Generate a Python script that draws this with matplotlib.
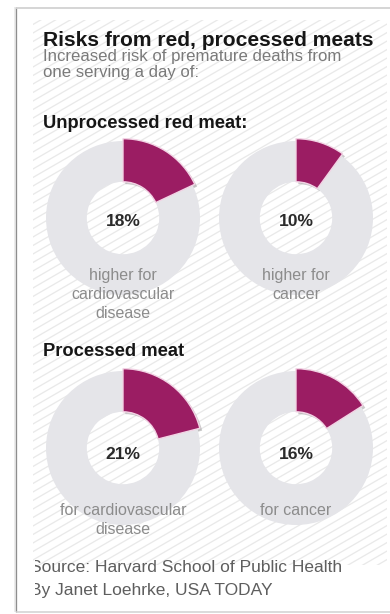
import matplotlib
matplotlib.use("Agg")
import matplotlib.pyplot as plt
from matplotlib.patches import Shadow, Rectangle
from matplotlib.transforms import Bbox
import numpy as np

plt.rcParams['font.family'] = ['Liberation Sans', 'DejaVu Sans']

# ---------------- data ----------------
title = "Risks from red, processed meats"
subtitle = ["Increased risk of premature deaths from", "one serving a day of:"]
groups = ["Unprocessed red meat:", "Processed meat"]
values = [[18, 10], [21, 16]]
pct_labels = [["18%", "10%"], ["21%", "16%"]]
desc_labels = [
    [["higher for", "cardiovascular", "disease"], ["higher for", "cancer"]],
    [["for cardiovascular", "disease"], ["for cancer"]],
]
source = ["Source: Harvard School of Public Health", "By Janet Loehrke, USA TODAY"]

# ---------------- style ----------------
W, H, DPI = 390, 614, 100
MAGENTA = "#9b1d63"
RING = "#e5e5e9"
HATCH = "#e9e9e9"


def pt(px):
    return px * 72.0 / DPI


fig = plt.figure(figsize=(W / DPI, H / DPI), dpi=DPI)
fig.patch.set_facecolor("white")


def px_axes(z):
    ax = fig.add_axes([0, 0, 1, 1], zorder=z)
    ax.set_xlim(0, W)
    ax.set_ylim(H, 0)
    ax.axis("off")
    ax.patch.set_alpha(0)
    return ax


bg = px_axes(0)
fg = px_axes(5)

# frame
bg.plot([14.5, 14.5], [7, 612], color="#ececec", lw=pt(2), solid_capstyle="butt")
bg.plot([16, 16], [7, 612], color="#8e8e8e", lw=pt(1.3), solid_capstyle="butt")
bg.plot([16, W], [7.5, 7.5], color="#d2d2d2", lw=pt(1.8), solid_capstyle="butt")
bg.plot([16, W], [611.5, 611.5], color="#d0d0d0", lw=pt(1.5), solid_capstyle="butt")

# diagonal hatching background
clip = Rectangle((33, 20), 354, 545, transform=bg.transData, facecolor="none", edgecolor="none")
bg.add_patch(clip)
slope = np.tan(np.radians(30))
xs = np.array([0, W])
for y0 in np.arange(-50, 900, 8.5):
    ln, = bg.plot(xs, y0 - slope * xs, color=HATCH, lw=pt(1.3))
    ln.set_clip_path(clip)

# titles
fg.text(43, 46.5, title, fontsize=pt(21), fontweight="bold", color="#161616", ha="left", va="baseline")
fg.text(43, 61.5, subtitle[0], fontsize=pt(16.8), color="#7a7a7a", ha="left", va="baseline")
fg.text(43, 76.5, subtitle[1], fontsize=pt(16.8), color="#7a7a7a", ha="left", va="baseline")

group_baselines = [128.3, 356.5]
for g, yb in zip(groups, group_baselines):
    fg.text(43, yb, g, fontsize=pt(18.4), fontweight="bold", color="#161616", ha="left", va="baseline")

# donuts
centers_x = [123, 296]
centers_y = [218, 448]
R = 77
pct_baselines = [226.5, 459]
label_first = [280, 515]
label_step = 19

for r in range(2):
    for c in range(2):
        cx, cy = centers_x[c], centers_y[r]
        f = 1.12
        ax = fig.add_axes([(cx - R * f) / W, (H - cy - R * f) / H, 2 * R * f / W, 2 * R * f / H], zorder=2)
        ax.pie([100], colors=[RING], radius=1.0, wedgeprops=dict(width=0.53, linewidth=0))
        v = values[r][c]
        wedges, _ = ax.pie([v, 100 - v], colors=[MAGENTA, RING], startangle=90, counterclock=False,
                           radius=1.03, wedgeprops=dict(width=0.56, linewidth=1.0, edgecolor="#f2d3e4"))
        wedges[1].set_visible(False)
        sh = Shadow(wedges[0], 0.022, -0.022)
        sh.set_facecolor("#8a8a8a")
        sh.set_edgecolor("none")
        sh.set_alpha(0.45)
        ax.add_patch(sh)
        ax.set_xlim(-f, f)
        ax.set_ylim(-f, f)
        ax.set_aspect("equal")
        ax.axis("off")

        fg.text(cx, pct_baselines[r], pct_labels[r][c], fontsize=pt(17.5), fontweight="bold",
                color="#2a2a2a", ha="center", va="baseline")
        for i, line in enumerate(desc_labels[r][c]):
            fg.text(cx, label_first[r] + i * label_step, line, fontsize=pt(16), color="#8c8c8c",
                    ha="center", va="baseline")

# source (left edge clipped like the reference)
clipbox = Bbox.from_extents(34.5, 0, W, H)
for i, s in enumerate(source):
    t = fg.text(29.5, 571.5 + i * 23.5, s, fontsize=pt(17.4), color="#5e5e5e", ha="left",
                va="baseline", clip_on=True)
    t.set_clip_path(None)
    t.set_clip_box(clipbox)

fig.savefig("out.png", dpi=DPI, facecolor="white")
